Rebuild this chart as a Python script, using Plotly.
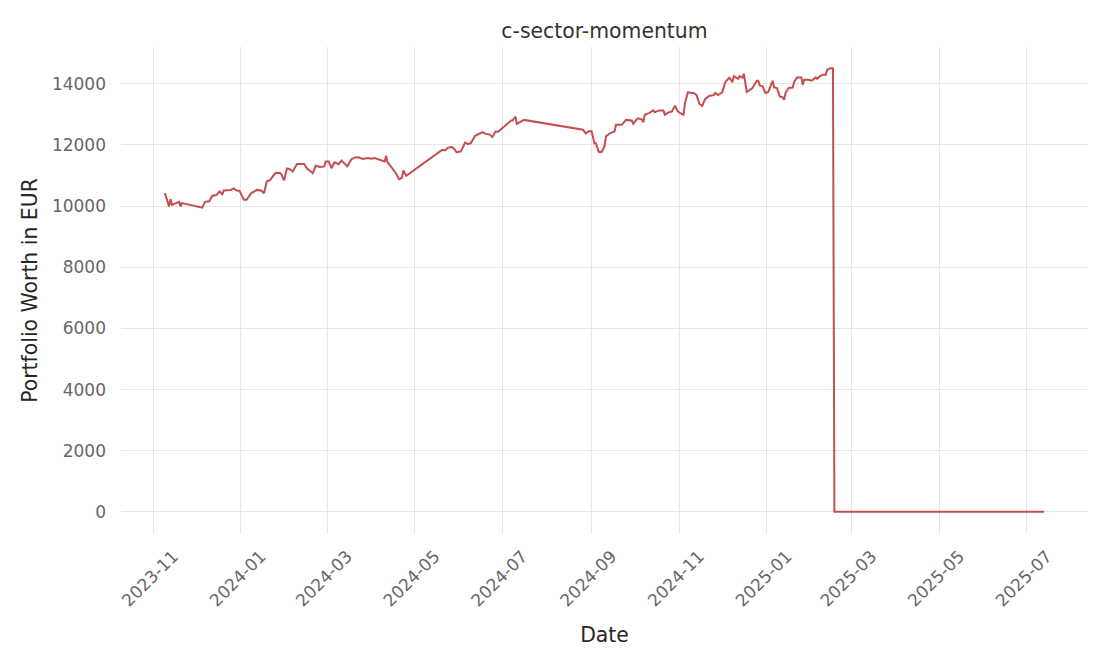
import plotly.graph_objects as go

dates = [
    "2023-11-09", "2023-11-12", "2023-11-13", "2023-11-14", "2023-11-16", "2023-11-19",
    "2023-11-20", "2023-11-21", "2023-12-05", "2023-12-07", "2023-12-10", "2023-12-12",
    "2023-12-15", "2023-12-17", "2023-12-19", "2023-12-20", "2023-12-25", "2023-12-27",
    "2023-12-29", "2023-12-31", "2024-01-03", "2024-01-05", "2024-01-08", "2024-01-12",
    "2024-01-15", "2024-01-17", "2024-01-19", "2024-01-21", "2024-01-25", "2024-01-28",
    "2024-01-29", "2024-01-31", "2024-02-02", "2024-02-04", "2024-02-06", "2024-02-09",
    "2024-02-14", "2024-02-16", "2024-02-20", "2024-02-22", "2024-02-25", "2024-02-28",
    "2024-02-29", "2024-03-02", "2024-03-04", "2024-03-06", "2024-03-09", "2024-03-11",
    "2024-03-14", "2024-03-15", "2024-03-18", "2024-03-21", "2024-03-23", "2024-03-26",
    "2024-03-29", "2024-04-01", "2024-04-03", "2024-04-07", "2024-04-10", "2024-04-11",
    "2024-04-12", "2024-04-14", "2024-04-16", "2024-04-18", "2024-04-20", "2024-04-22",
    "2024-04-23", "2024-04-25", "2024-05-20", "2024-05-22", "2024-05-24", "2024-05-27",
    "2024-05-29", "2024-05-30", "2024-06-02", "2024-06-03", "2024-06-05", "2024-06-07",
    "2024-06-09", "2024-06-12", "2024-06-15", "2024-06-17", "2024-06-19", "2024-06-22",
    "2024-06-24", "2024-06-26", "2024-06-28", "2024-07-01", "2024-07-04", "2024-07-07",
    "2024-07-08", "2024-07-10", "2024-07-11", "2024-07-13", "2024-07-16", "2024-08-26",
    "2024-08-28", "2024-08-30", "2024-09-01", "2024-09-03", "2024-09-04", "2024-09-06",
    "2024-09-08", "2024-09-10", "2024-09-11", "2024-09-14", "2024-09-17", "2024-09-18",
    "2024-09-22", "2024-09-24", "2024-09-25", "2024-09-29", "2024-09-30", "2024-10-03",
    "2024-10-06", "2024-10-07", "2024-10-08", "2024-10-11", "2024-10-14", "2024-10-15",
    "2024-10-18", "2024-10-21", "2024-10-22", "2024-10-25", "2024-10-27", "2024-10-29",
    "2024-10-31", "2024-11-02", "2024-11-04", "2024-11-05", "2024-11-07", "2024-11-10",
    "2024-11-11", "2024-11-13", "2024-11-15", "2024-11-17", "2024-11-19", "2024-11-22",
    "2024-11-25", "2024-11-26", "2024-11-28", "2024-12-01", "2024-12-03", "2024-12-05",
    "2024-12-06", "2024-12-08", "2024-12-09", "2024-12-12", "2024-12-13", "2024-12-15",
    "2024-12-16", "2024-12-18", "2024-12-20", "2024-12-22", "2024-12-25", "2024-12-26",
    "2024-12-27", "2024-12-29", "2024-12-31", "2025-01-02", "2025-01-03", "2025-01-05",
    "2025-01-06", "2025-01-08", "2025-01-10", "2025-01-12", "2025-01-13", "2025-01-14",
    "2025-01-16", "2025-01-19", "2025-01-20", "2025-01-22", "2025-01-24", "2025-01-25",
    "2025-01-26", "2025-01-27", "2025-01-30", "2025-02-01", "2025-02-02", "2025-02-04",
    "2025-02-05", "2025-02-07", "2025-02-09", "2025-02-11", "2025-02-12", "2025-02-14",
    "2025-02-16", "2025-02-17", "2025-07-13",
]

worth = [
    10430, 9990, 10230, 10040, 10080, 10140,
    9990, 10100, 9950, 10140, 10160, 10340,
    10360, 10480, 10390, 10510, 10530, 10580,
    10510, 10500, 10210, 10210, 10420, 10530,
    10510, 10420, 10810, 10840, 11080, 11080,
    11050, 10840, 11230, 11210, 11130, 11380,
    11380, 11230, 11080, 11320, 11280, 11300,
    11460, 11460, 11240, 11430, 11370, 11490,
    11350, 11300, 11540, 11600, 11590, 11540,
    11570, 11550, 11570, 11510, 11460, 11650,
    11430, 11320, 11190, 11060, 10880, 10920,
    11170, 10990, 11840, 11820, 11910, 11930,
    11840, 11760, 11790, 11900, 12080, 12030,
    12060, 12300, 12360, 12420, 12370, 12340,
    12260, 12430, 12430, 12550, 12690, 12800,
    12800, 12930, 12690, 12740, 12820, 12500,
    12370, 12450, 12450, 12060, 12060, 11770,
    11770, 11950, 12280, 12390, 12440, 12660,
    12660, 12770, 12820, 12800, 12690, 12870,
    12840, 12740, 12990, 13040, 13130, 13070,
    13130, 13130, 12990, 13070, 13100, 13280,
    13100, 13030, 12990, 13370, 13720, 13700,
    13700, 13640, 13350, 13280, 13500, 13610,
    13630, 13700, 13630, 13720, 14050, 14160,
    14200, 14050, 14250, 14160, 14250, 14200,
    14330, 13730, 13800, 13860, 14100, 14100,
    13950, 13920, 13700, 13730, 13860, 14100,
    13880, 13860, 13590, 13560, 13480, 13700,
    13860, 13880, 14060, 14210, 14210, 14210,
    13970, 14130, 14130, 14100, 14130, 14210,
    14160, 14250, 14300, 14300, 14460, 14510,
    14510, 0, 0,
]

x_ticks = ["2023-11-01", "2024-01-01", "2024-03-01", "2024-05-01", "2024-07-01",
           "2024-09-01", "2024-11-01", "2025-01-01", "2025-03-01", "2025-05-01",
           "2025-07-01"]
x_tick_labels = ["2023-11", "2024-01", "2024-03", "2024-05", "2024-07", "2024-09",
                 "2024-11", "2025-01", "2025-03", "2025-05", "2025-07"]
y_ticks = [0, 2000, 4000, 6000, 8000, 10000, 12000, 14000]
y_tick_labels = ["0", "2000", "4000", "6000", "8000", "10000", "12000", "14000"]

FONT = "DejaVu Sans"

fig = go.Figure()
fig.add_trace(go.Scatter(
    x=dates, y=worth, mode="lines",
    line=dict(color="#c44e52", width=2),
    showlegend=False,
))

fig.update_layout(
    width=1110, height=666,
    margin=dict(l=113, r=30, t=39, b=140, autoexpand=False),
    paper_bgcolor="white", plot_bgcolor="white",
    font=dict(family=FONT, size=17, color="#666666"),
    title=dict(text="c-sector-momentum", x=596.5 / 1110, xanchor="center",
               y=1 - 23 / 666, yanchor="middle", yref="container",
               font=dict(family=FONT, size=20.4, color="#333333")),
)

fig.update_xaxes(
    type="date", automargin=False,
    range=["2023-10-09 12:00", "2025-08-12 12:00"],
    tickmode="array", tickvals=x_ticks, ticktext=x_tick_labels,
    tickangle=-45, ticklabelshift=20, ticklabelstandoff=8,
    tickfont=dict(family=FONT, size=17, color="#666666"),
    showgrid=True, gridcolor="#e6e6e6", gridwidth=1,
    showline=False, zeroline=False, ticks="",
    title=dict(text="Date", standoff=18,
               font=dict(family=FONT, size=20.4, color="#262626")),
)

fig.update_yaxes(
    automargin=False,
    range=[-724, 15204],
    tickmode="array", tickvals=y_ticks, ticktext=y_tick_labels,
    tickfont=dict(family=FONT, size=17, color="#666666"),
    showgrid=True, gridcolor="#e6e6e6", gridwidth=1,
    showline=False, zeroline=False, ticks="",
    ticklabelstandoff=14,
    title=dict(text="Portfolio Worth in EUR", standoff=8,
               font=dict(family=FONT, size=20.4, color="#262626")),
)

fig.write_html("out.html")
